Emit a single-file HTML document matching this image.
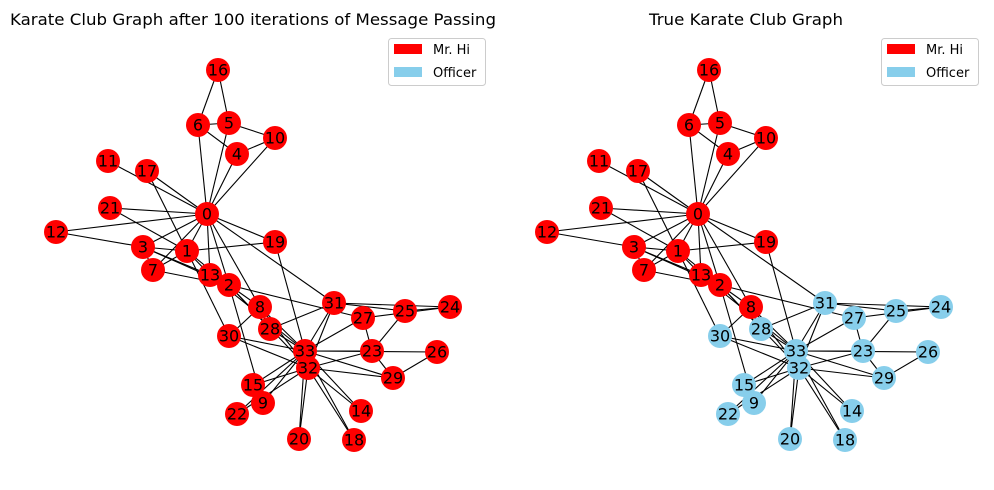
<!DOCTYPE html>
<html><head><meta charset="utf-8"><style>body{margin:0;background:#fff}svg{display:block}</style></head><body>
<svg width="994" height="490" viewBox="0 0 994 490" xmlns="http://www.w3.org/2000/svg" font-family="DejaVu Sans, Liberation Sans, sans-serif">
<rect width="994" height="490" fill="#fff"/>
<text x="253" y="25" font-size="16" text-anchor="middle" textLength="486" lengthAdjust="spacingAndGlyphs">Karate Club Graph after 100 iterations of Message Passing</text>
<text x="746" y="25" font-size="16" text-anchor="middle" textLength="194" lengthAdjust="spacingAndGlyphs">True Karate Club Graph</text>
<g id="E" stroke="#000" stroke-width="1.1">
<line x1="207" y1="214" x2="187" y2="251"/><line x1="207" y1="214" x2="229" y2="285"/><line x1="207" y1="214" x2="143" y2="247"/><line x1="207" y1="214" x2="237" y2="154"/><line x1="207" y1="214" x2="229" y2="123"/><line x1="207" y1="214" x2="198" y2="125"/><line x1="207" y1="214" x2="153" y2="270"/><line x1="207" y1="214" x2="260" y2="307"/><line x1="207" y1="214" x2="275" y2="138"/><line x1="207" y1="214" x2="108" y2="161"/><line x1="207" y1="214" x2="56" y2="232"/><line x1="207" y1="214" x2="210" y2="275"/><line x1="207" y1="214" x2="147" y2="171"/><line x1="207" y1="214" x2="275" y2="242"/><line x1="207" y1="214" x2="110" y2="208"/><line x1="207" y1="214" x2="334" y2="303"/>
<line x1="187" y1="251" x2="229" y2="285"/><line x1="187" y1="251" x2="143" y2="247"/><line x1="187" y1="251" x2="153" y2="270"/><line x1="187" y1="251" x2="210" y2="275"/><line x1="187" y1="251" x2="147" y2="171"/><line x1="187" y1="251" x2="275" y2="242"/><line x1="187" y1="251" x2="110" y2="208"/><line x1="187" y1="251" x2="229" y2="336"/>
<line x1="229" y1="285" x2="143" y2="247"/><line x1="229" y1="285" x2="153" y2="270"/><line x1="229" y1="285" x2="260" y2="307"/><line x1="229" y1="285" x2="263" y2="403"/><line x1="229" y1="285" x2="210" y2="275"/><line x1="229" y1="285" x2="363" y2="318"/><line x1="229" y1="285" x2="270" y2="329"/><line x1="229" y1="285" x2="308" y2="368"/>
<line x1="143" y1="247" x2="153" y2="270"/><line x1="143" y1="247" x2="56" y2="232"/><line x1="143" y1="247" x2="210" y2="275"/>
<line x1="237" y1="154" x2="198" y2="125"/><line x1="237" y1="154" x2="275" y2="138"/>
<line x1="229" y1="123" x2="198" y2="125"/><line x1="229" y1="123" x2="275" y2="138"/><line x1="229" y1="123" x2="218" y2="70"/><line x1="198" y1="125" x2="218" y2="70"/>
<line x1="260" y1="307" x2="229" y2="336"/><line x1="260" y1="307" x2="308" y2="368"/><line x1="260" y1="307" x2="305" y2="351"/>
<line x1="263" y1="403" x2="305" y2="351"/><line x1="210" y1="275" x2="305" y2="351"/>
<line x1="361" y1="411" x2="308" y2="368"/><line x1="361" y1="411" x2="305" y2="351"/>
<line x1="253" y1="385" x2="308" y2="368"/><line x1="253" y1="385" x2="305" y2="351"/>
<line x1="354" y1="440" x2="308" y2="368"/><line x1="354" y1="440" x2="305" y2="351"/>
<line x1="275" y1="242" x2="305" y2="351"/>
<line x1="299" y1="439" x2="308" y2="368"/><line x1="299" y1="439" x2="305" y2="351"/>
<line x1="237" y1="414" x2="308" y2="368"/><line x1="237" y1="414" x2="305" y2="351"/>
<line x1="372" y1="351" x2="405" y2="311"/><line x1="372" y1="351" x2="363" y2="318"/><line x1="372" y1="351" x2="393" y2="378"/><line x1="372" y1="351" x2="308" y2="368"/><line x1="372" y1="351" x2="305" y2="351"/>
<line x1="450" y1="307" x2="405" y2="311"/><line x1="450" y1="307" x2="363" y2="318"/><line x1="450" y1="307" x2="334" y2="303"/>
<line x1="405" y1="311" x2="334" y2="303"/>
<line x1="437" y1="352" x2="393" y2="378"/><line x1="437" y1="352" x2="305" y2="351"/>
<line x1="363" y1="318" x2="305" y2="351"/>
<line x1="270" y1="329" x2="334" y2="303"/><line x1="270" y1="329" x2="305" y2="351"/>
<line x1="393" y1="378" x2="308" y2="368"/><line x1="393" y1="378" x2="305" y2="351"/>
<line x1="229" y1="336" x2="308" y2="368"/><line x1="229" y1="336" x2="305" y2="351"/>
<line x1="334" y1="303" x2="308" y2="368"/><line x1="334" y1="303" x2="305" y2="351"/>
<line x1="308" y1="368" x2="305" y2="351"/>
</g>
<use href="#E" x="491" y="0"/>
<g font-size="16" text-anchor="middle" dominant-baseline="central">
<g fill="#ff0000">
<circle cx="218" cy="70" r="12"/><circle cx="198" cy="125" r="12"/><circle cx="229" cy="123" r="12"/><circle cx="275" cy="138" r="12"/><circle cx="237" cy="154" r="12"/><circle cx="108" cy="161" r="12"/><circle cx="147" cy="171" r="12"/><circle cx="110" cy="208" r="12"/><circle cx="207" cy="214" r="12"/><circle cx="56" cy="232" r="12"/><circle cx="275" cy="242" r="12"/><circle cx="143" cy="247" r="12"/><circle cx="187" cy="251" r="12"/><circle cx="153" cy="270" r="12"/><circle cx="210" cy="275" r="12"/><circle cx="229" cy="285" r="12"/><circle cx="260" cy="307" r="12"/><circle cx="334" cy="303" r="12"/><circle cx="363" cy="318" r="12"/><circle cx="405" cy="311" r="12"/><circle cx="450" cy="307" r="12"/><circle cx="270" cy="329" r="12"/><circle cx="229" cy="336" r="12"/><circle cx="305" cy="351" r="12"/><circle cx="308" cy="368" r="12"/><circle cx="372" cy="351" r="12"/><circle cx="437" cy="352" r="12"/><circle cx="393" cy="378" r="12"/><circle cx="253" cy="385" r="12"/><circle cx="263" cy="403" r="12"/><circle cx="237" cy="414" r="12"/><circle cx="361" cy="411" r="12"/><circle cx="299" cy="439" r="12"/><circle cx="354" cy="440" r="12"/>
</g>
<g fill="#000">
<text x="218" y="70">16</text><text x="198" y="125">6</text><text x="229" y="123">5</text><text x="275" y="138">10</text><text x="237" y="154">4</text><text x="108" y="161">11</text><text x="147" y="171">17</text><text x="110" y="208">21</text><text x="207" y="214">0</text><text x="56" y="232">12</text><text x="275" y="242">19</text><text x="143" y="247">3</text><text x="187" y="251">1</text><text x="153" y="270">7</text><text x="210" y="275">13</text><text x="229" y="285">2</text><text x="260" y="307">8</text><text x="334" y="303">31</text><text x="363" y="318">27</text><text x="405" y="311">25</text><text x="450" y="307">24</text><text x="270" y="329">28</text><text x="229" y="336">30</text><text x="305" y="351">33</text><text x="308" y="368">32</text><text x="372" y="351">23</text><text x="437" y="352">26</text><text x="393" y="378">29</text><text x="253" y="385">15</text><text x="263" y="403">9</text><text x="237" y="414">22</text><text x="361" y="411">14</text><text x="299" y="439">20</text><text x="354" y="440">18</text>
</g>
<g transform="translate(491,0)">
<g fill="#ff0000">
<circle cx="218" cy="70" r="12"/><circle cx="198" cy="125" r="12"/><circle cx="229" cy="123" r="12"/><circle cx="275" cy="138" r="12"/><circle cx="237" cy="154" r="12"/><circle cx="108" cy="161" r="12"/><circle cx="147" cy="171" r="12"/><circle cx="110" cy="208" r="12"/><circle cx="207" cy="214" r="12"/><circle cx="56" cy="232" r="12"/><circle cx="275" cy="242" r="12"/><circle cx="143" cy="247" r="12"/><circle cx="187" cy="251" r="12"/><circle cx="153" cy="270" r="12"/><circle cx="210" cy="275" r="12"/><circle cx="229" cy="285" r="12"/><circle cx="260" cy="307" r="12"/>
</g>
<g fill="#87ceeb">
<circle cx="334" cy="303" r="12"/><circle cx="363" cy="318" r="12"/><circle cx="405" cy="311" r="12"/><circle cx="450" cy="307" r="12"/><circle cx="270" cy="329" r="12"/><circle cx="229" cy="336" r="12"/><circle cx="305" cy="351" r="12"/><circle cx="308" cy="368" r="12"/><circle cx="372" cy="351" r="12"/><circle cx="437" cy="352" r="12"/><circle cx="393" cy="378" r="12"/><circle cx="253" cy="385" r="12"/><circle cx="263" cy="403" r="12"/><circle cx="237" cy="414" r="12"/><circle cx="361" cy="411" r="12"/><circle cx="299" cy="439" r="12"/><circle cx="354" cy="440" r="12"/>
</g>
<g fill="#000">
<text x="218" y="70">16</text><text x="198" y="125">6</text><text x="229" y="123">5</text><text x="275" y="138">10</text><text x="237" y="154">4</text><text x="108" y="161">11</text><text x="147" y="171">17</text><text x="110" y="208">21</text><text x="207" y="214">0</text><text x="56" y="232">12</text><text x="275" y="242">19</text><text x="143" y="247">3</text><text x="187" y="251">1</text><text x="153" y="270">7</text><text x="210" y="275">13</text><text x="229" y="285">2</text><text x="260" y="307">8</text><text x="334" y="303">31</text><text x="363" y="318">27</text><text x="405" y="311">25</text><text x="450" y="307">24</text><text x="270" y="329">28</text><text x="229" y="336">30</text><text x="305" y="351">33</text><text x="308" y="368">32</text><text x="372" y="351">23</text><text x="437" y="352">26</text><text x="393" y="378">29</text><text x="253" y="385">15</text><text x="263" y="403">9</text><text x="237" y="414">22</text><text x="361" y="411">14</text><text x="299" y="439">20</text><text x="354" y="440">18</text>
</g>
</g>
</g>
<g font-size="13">
<rect x="388.5" y="38.5" width="97" height="47" rx="3" fill="#fff" stroke="#ccc"/>
<rect x="394" y="44" width="28" height="10" fill="#ff0000"/>
<rect x="394" y="67" width="28" height="10" fill="#87ceeb"/>
<text x="433" y="54">Mr. Hi</text><text x="433" y="77">Officer</text>
<rect x="881.5" y="38.5" width="97" height="47" rx="3" fill="#fff" stroke="#ccc"/>
<rect x="887" y="44" width="28" height="10" fill="#ff0000"/>
<rect x="887" y="67" width="28" height="10" fill="#87ceeb"/>
<text x="926" y="54">Mr. Hi</text><text x="926" y="77">Officer</text>
</g>
</svg>
</body></html>
